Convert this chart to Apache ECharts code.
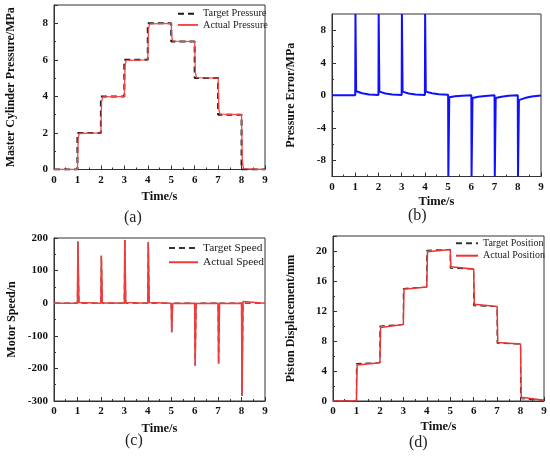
<!DOCTYPE html>
<html>
<head>
<meta charset="utf-8">
<script src="https://cdn.jsdelivr.net/npm/echarts@6/dist/echarts.min.js"></script>
<style>
  html, body { margin: 0; padding: 0; background: #fff; }
  #chart { width: 550px; height: 457px; }
</style>
</head>
<body>
<div id="chart"></div>
<script>
// (a) master cylinder pressure
const targetPressT = [0, 1, 1, 2, 2, 3, 3, 4, 4, 5, 5, 6, 6, 7, 7, 8, 8, 9];
const targetPressV = [0, 0, 2, 2, 4, 4, 6, 6, 8, 8, 7, 7, 5, 5, 3, 3, 0, 0];
const actualPressT = [0, 1, 1.03, 1.08, 2, 2.03, 2.08, 3, 3.03, 3.08, 4, 4.03, 4.08, 5, 5.03, 5.08, 6, 6.03, 6.08, 7, 7.03, 7.08, 8, 8.03, 8.08, 9];
const actualPressV = [0, 0, 1.7, 1.97, 2, 3.7, 3.97, 4, 5.7, 5.97, 6, 7.7, 7.97, 8, 7.2, 7.02, 7, 5.3, 5.03, 5, 3.3, 3.03, 3, 0.5, 0.05, 0];

// (b) pressure error
const errT = [0, 1, 1.01, 1.04, 1.3, 1.6, 2, 2.01, 2.04, 2.3, 2.6, 3, 3.01, 3.04, 3.3, 3.6, 4, 4.01, 4.04, 4.3, 4.6,
  5, 5.01, 5.05, 5.3, 5.6, 6, 6.01, 6.05, 6.3, 6.6, 7, 7.01, 7.05, 7.3, 7.6, 8, 8.01, 8.05, 8.3, 8.6, 9];
const errV = [0, 0, 10, 0.5, 0.25, 0.1, 0.02, 10, 0.45, 0.22, 0.08, 0.02, 10, 0.45, 0.22, 0.08, 0.02, 10, 0.45, 0.25, 0.12,
  0.05, -10, -0.25, -0.12, -0.05, 0, -10, -0.35, -0.18, -0.08, 0, -10, -0.35, -0.18, -0.06, 0, -10, -0.6, -0.35, -0.15, -0.02];
const errTicks = [-8, -4, 0, 4, 8];
const errMinorTicks = [-6, -2, 2, 6];

// (c) motor speed
const speedT = [0, 1, 1.02, 1.06, 2, 2.02, 2.06, 3, 3.02, 3.06, 4, 4.02, 4.06, 5, 5.02, 5.06, 6, 6.02, 6.06, 7, 7.02, 7.06, 8, 8.02, 8.06, 8.12, 9];
const targetSpeed = [0, 0, 190, 0, 0, 145, 0, 0, 195, 0, 0, 188, 0, 0, -90, 0, 0, -192, 0, 0, -188, 0, 0, -285, 0, 0, 0];
const actualSpeed = [0, 0, 188, 2, 0, 146, 1, 0, 193, 2, 0, 186, 2, 0, -90, -1, 0, -190, -1, 0, -186, -1, 0, -280, 5, 1, 0];

// (d) piston displacement
const targetPosT = [0, 1, 1, 2, 2, 3, 3, 4, 4, 5, 5, 6, 6, 7, 7, 8, 8, 9];
const targetPos = [0, 0, 5, 5.1, 10, 10.2, 15, 15.2, 20.1, 20.2, 17.7, 17.6, 12.7, 12.6, 7.7, 7.6, 0.3, 0.1];
const actualPosT = [0, 1.0, 1.03, 1.08, 2.0, 2.03, 2.08, 3.0, 3.03, 3.08, 4.0, 4.03, 4.08, 5.0, 5.03, 5.08, 6.0, 6.03, 6.08, 7.0, 7.03, 7.08, 8.0, 8.03, 8.08, 9.0];
const actualPos = [0, 0, 4.8, 5.0, 5.1, 9.8, 10.0, 10.2, 14.9, 15.1, 15.2, 19.9, 20.1, 20.2, 17.9, 17.7, 17.6, 12.9, 12.7, 12.6, 7.8, 7.7, 7.6, 0.5, 0.25, 0.1];

const font = "'Liberation Serif', 'Times New Roman', serif";
const ink = '#222';

const pairs = (ts, vs) => ts.map((t, i) => [t, vs[i]]);

function xAxisCfg(gridIndex, gap) {
  return {
    type: 'value',
    gridIndex,
    min: 0,
    max: 9,
    interval: 1,
    name: 'Time/s',
    nameLocation: 'middle',
    nameGap: gap,
    nameTextStyle: { fontFamily: font, fontWeight: 'bold', fontSize: 12.5, color: '#111' },
    axisLine: { onZero: false, lineStyle: { color: '#333', width: 1 } },
    axisTick: { inside: true, length: 4, lineStyle: { color: '#333' } },
    minorTick: { show: true, splitNumber: 2, length: 2, lineStyle: { color: '#333' } },
    axisLabel: { fontFamily: font, fontWeight: 'bold', fontSize: 11, color: '#111', margin: 5 },
    splitLine: { show: false },
  };
}

function yAxisCfg(gridIndex, name, gap, extra) {
  return Object.assign({
    type: 'value',
    gridIndex,
    name,
    nameLocation: 'middle',
    nameGap: gap,
    nameTextStyle: { fontFamily: font, fontWeight: 'bold', fontSize: 12, color: '#111' },
    axisLine: { onZero: false, lineStyle: { color: '#333', width: 1 } },
    axisTick: { inside: true, length: 4, lineStyle: { color: '#333' } },
    minorTick: { show: true, splitNumber: 2, length: 2, lineStyle: { color: '#333' } },
    axisLabel: { fontFamily: font, fontWeight: 'bold', fontSize: 11, color: '#111', margin: 6 },
    splitLine: { show: false },
  }, extra);
}

function lineSeries(name, idx, data, color, width, dashed) {
  return {
    name,
    type: 'line',
    xAxisIndex: idx,
    yAxisIndex: idx,
    data,
    symbol: 'none',
    clip: true,
    lineStyle: { color, width, type: dashed ? [6, 4] : 'solid' },
    itemStyle: { color },
    emphasis: { disabled: true },
  };
}

// line-only legend entries (no marker dot)
function legendCfg(names, left, top, size, lh, iconW) {
  return {
    data: names,
    left,
    top,
    orient: 'vertical',
    padding: 0,
    itemGap: 1,
    itemWidth: iconW,
    itemHeight: 8,
    selectedMode: false,
    itemStyle: { color: 'rgba(0,0,0,0)', borderColor: 'rgba(0,0,0,0)', borderWidth: 0, opacity: 0 },
    textStyle: { fontFamily: font, fontSize: size, lineHeight: lh, color: '#222' },
  };
}

const gridBase = { show: true, borderColor: '#333', borderWidth: 1, backgroundColor: '#fff' };

const chart = echarts.init(document.getElementById('chart'));

const option = {
  animation: false,
  backgroundColor: '#fff',
  grid: [
    Object.assign({ left: 54, top: 5, width: 211, height: 164.5 }, gridBase),
    Object.assign({ left: 332, top: 14, width: 209, height: 162.5 }, gridBase),
    Object.assign({ left: 54, top: 238, width: 211, height: 163 }, gridBase),
    Object.assign({ left: 333, top: 236, width: 211, height: 165 }, gridBase),
  ],
  xAxis: [
    xAxisCfg(0, 21),
    xAxisCfg(1, 19),
    xAxisCfg(2, 21),
    xAxisCfg(3, 19),
  ],
  yAxis: [
    yAxisCfg(0, 'Master Cylinder Pressure/MPa', 37, {
      min: 0, max: 9, interval: 2,
      axisLabel: { fontFamily: font, fontWeight: 'bold', fontSize: 11, color: '#111', margin: 6,
        formatter: v => (v % 2 === 0 ? String(v) : '') },
    }),
    yAxisCfg(1, 'Pressure Error/MPa', 35, {
      min: -10, max: 10,
      axisTick: { inside: true, length: 4, customValues: errTicks, lineStyle: { color: '#333' } },
      minorTick: { show: false },
      axisLabel: { fontFamily: font, fontWeight: 'bold', fontSize: 11, color: '#111', margin: 6,
        customValues: errTicks },
    }),
    yAxisCfg(2, 'Motor Speed/n', 36, { min: -300, max: 200, interval: 100 }),
    yAxisCfg(3, 'Piston Displacement/mm', 36, {
      min: 0, max: 22, interval: 4,
      axisLabel: { fontFamily: font, fontWeight: 'bold', fontSize: 11, color: '#111', margin: 6,
        formatter: v => (v % 4 === 0 ? String(v) : '') },
    }),
    {
      // minor ticks for the pressure error axis
      type: 'value', gridIndex: 1, min: -10, max: 10, position: 'left',
      axisLine: { show: false, onZero: false },
      axisTick: { show: true, inside: true, length: 2, customValues: errMinorTicks, lineStyle: { color: '#333' } },
      axisLabel: { show: false },
      splitLine: { show: false },
    },
  ],
  legend: [
    legendCfg(['Target Pressure', 'Actual Pressure'], 177, 8.5, 10.3, 10.3, 20),
    legendCfg(['Target Speed', 'Actual Speed'], 168, 241.3, 11.4, 13.3, 29),
    legendCfg(['Target Position', 'Actual Position'], 455, 237.6, 10, 11.4, 22),
  ],
  series: [
    lineSeries('Target Pressure', 0, pairs(targetPressT, targetPressV), '#1a1a1a', 2, true),
    lineSeries('Actual Pressure', 0, pairs(actualPressT, actualPressV), '#f24a4a', 1.3, false),
    lineSeries('Pressure Error', 1, pairs(errT, errV), '#1010ff', 2, false),
    lineSeries('Target Speed', 2, pairs(speedT, targetSpeed), '#333', 1.3, true),
    lineSeries('Actual Speed', 2, pairs(speedT, actualSpeed), '#f03c3c', 1.6, false),
    lineSeries('Target Position', 3, pairs(targetPosT, targetPos), '#333', 1.2, true),
    lineSeries('Actual Position', 3, pairs(actualPosT, actualPos), '#ea3434', 1.5, false),
  ],
  graphic: [
    { type: 'text', left: 124, top: 210, style: { text: '(a)', font: '16px ' + font, fill: ink } },
    { type: 'text', left: 408, top: 208, style: { text: '(b)', font: '16px ' + font, fill: ink } },
    { type: 'text', left: 125, top: 433, style: { text: '(c)', font: '16px ' + font, fill: ink } },
    { type: 'text', left: 409, top: 435, style: { text: '(d)', font: '16px ' + font, fill: ink } },
  ],
};

chart.setOption(option);
</script>
</body>
</html>
